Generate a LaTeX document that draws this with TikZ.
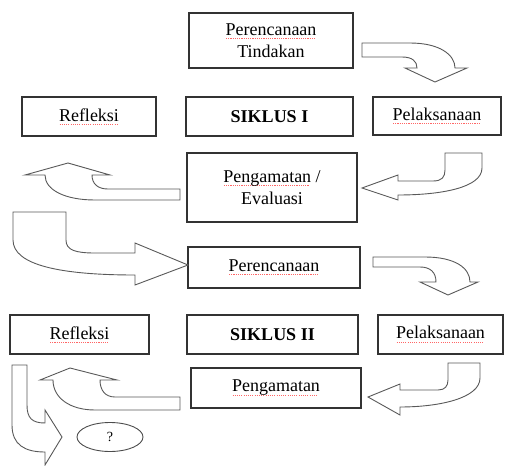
\documentclass[tikz,border=0pt]{standalone}
\usepackage{fontspec}
\setmainfont{Liberation Serif}
\usetikzlibrary{shapes.geometric}
\newsavebox\spbox
\newcommand\spellmark[1]{\sbox\spbox{#1}\rlap{\color{red!60}\raisebox{-3.5pt}{\hbox to \wd\spbox{\leaders\hbox to 2.2pt{\hss\rule{1.1pt}{0.7pt}\hss}\hfill}}}\usebox\spbox}
\tikzset{
  box/.style={draw=black!80, line width=1.1pt, inner sep=0pt, outer sep=0pt,
    font=\fontsize{18}{22}\selectfont, text=black, align=center},
  blockarrow/.style={draw=black!65, line width=0.9pt, fill=white, line join=miter},
}
\begin{document}
\begin{tikzpicture}[x=1pt,y=-1pt]
\useasboundingbox (0,0) rectangle (507,466);
% boxes
\node[box, minimum width=164pt, minimum height=55pt] (plan1) at (271,40.5) {\spellmark{Perencanaan}\\Tindakan};
\node[box, minimum width=134pt, minimum height=39pt] (refl1) at (89,116.5) {\spellmark{Refleksi}};
\node[box, minimum width=167pt, minimum height=39pt] (sik1) at (269.5,116.5) {\textbf{SIKLUS I}};
\node[box, minimum width=128pt, minimum height=38pt] (pel1) at (437,116) {\spellmark{Pelaksanaan}};
\node[box, minimum width=170pt, minimum height=69pt] (eval1) at (272,187.5) {\spellmark{Pengamatan} /\\Evaluasi};
\node[box, minimum width=172pt, minimum height=41pt] (plan2) at (274,267.5) {\spellmark{Perencanaan}};
\node[box, minimum width=139pt, minimum height=39pt] (refl2) at (79.5,334.5) {\spellmark{Refleksi}};
\node[box, minimum width=171pt, minimum height=39pt] (sik2) at (272.5,334.5) {\textbf{SIKLUS II}};
\node[box, minimum width=125pt, minimum height=39pt] (pel2) at (440.5,334.5) {\spellmark{Pelaksanaan}};
\node[box, minimum width=170pt, minimum height=40pt] (obs2) at (276,388) {\spellmark{Pengamatan}};
\node[ellipse, draw=black!70, line width=0.9pt, minimum width=66pt, minimum height=29pt, inner sep=0pt,
  font=\fontsize{14}{16}\selectfont, text=black] (q) at (110,437) {?};
% block arrows
% plan1 -> pel1
\draw[blockarrow] (362,43) -- (410,43) .. controls (440,43) and (455,55) .. (455,68) -- (467,68) -- (435,82)
  -- (405,68) -- (417,68) .. controls (417,61) and (412,57) .. (402,57) -- (362,57) -- cycle;
% pel1 -> eval1
\draw[blockarrow] (362,188) -- (398,175) -- (398,181) -- (433,181) .. controls (442,181) and (445,177) .. (445,170)
  -- (445,153) -- (482,153) -- (482,168) .. controls (482,188) and (440,195) .. (398,195) -- (398,200) -- cycle;
% eval1 -> up-left
\draw[blockarrow] (180,189) -- (108,189) .. controls (98,189) and (92,184) .. (92,175) -- (110,175) -- (68,163)
  -- (25,175) -- (45,175) .. controls (45,190) and (65,200) .. (95,200) -- (180,200) -- cycle;
% big arrow -> plan2
\draw[blockarrow] (13,212) -- (66,212) -- (66,240) .. controls (66,250) and (75,253) .. (95,253) -- (135,253)
  -- (135,243) -- (188,265) -- (135,285) -- (135,275) .. controls (60,275) and (13,265) .. (13,240) -- cycle;
% plan2 -> pel2
\draw[blockarrow] (373,257) -- (425,257) .. controls (455,257) and (470,268) .. (470,282) -- (478,282) -- (448,295)
  -- (420,282) -- (436,282) .. controls (436,272) and (430,267) .. (420,267) -- (373,267) -- cycle;
% pel2 -> obs2
\draw[blockarrow] (368,397) -- (400,384) -- (400,390) -- (438,390) .. controls (445,390) and (448,386) .. (448,380)
  -- (448,363) -- (480,363) -- (480,378) .. controls (480,398) and (440,407) .. (400,407) -- (400,415) -- cycle;
% obs2 -> up-left
\draw[blockarrow] (180,397) -- (115,397) .. controls (105,397) and (100,390) .. (100,380) -- (117,380) -- (70,368)
  -- (40,380) -- (53,380) .. controls (53,398) and (70,410) .. (95,410) -- (180,410) -- cycle;
% refl2 -> ?
\draw[blockarrow] (12,365) -- (27,365) -- (27,405) .. controls (27,418) and (32,423) .. (45,423) -- (45,410)
  -- (62,437) -- (45,465) -- (45,452) .. controls (25,452) and (12,445) .. (12,425) -- cycle;
\end{tikzpicture}
\end{document}
